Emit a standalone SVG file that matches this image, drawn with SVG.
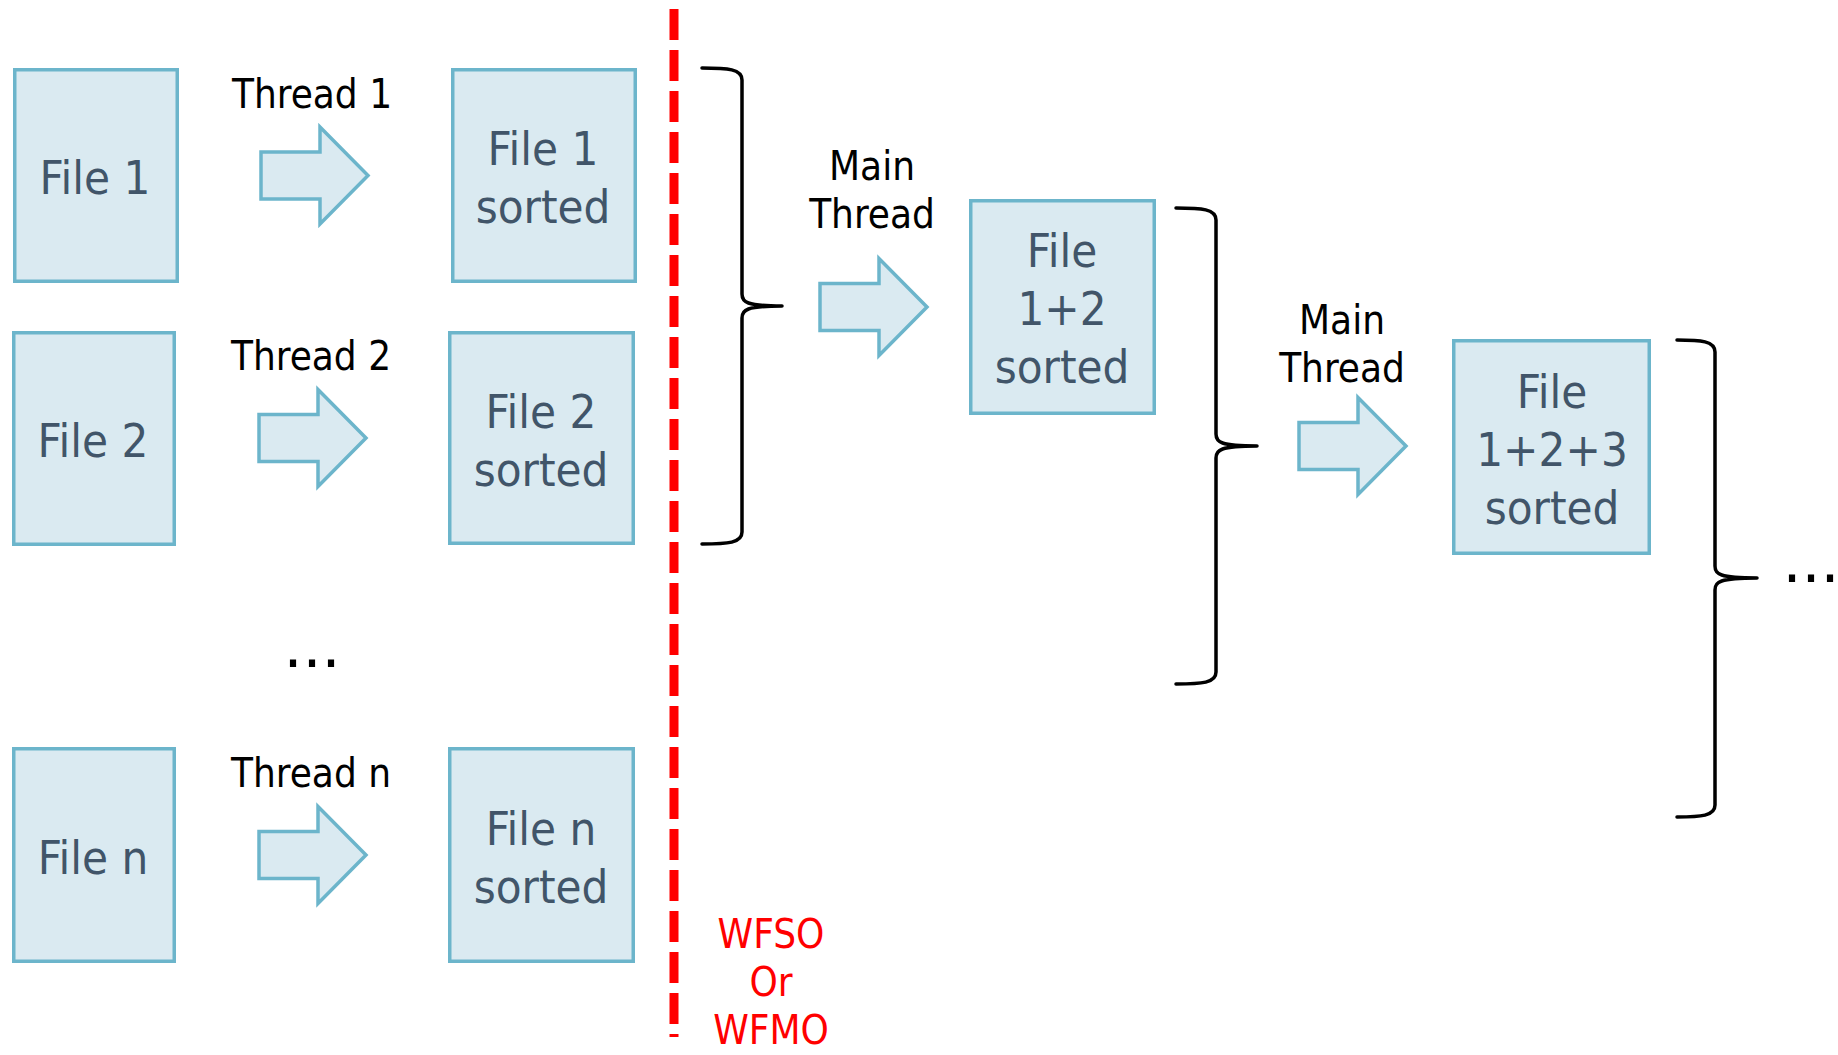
<svg xmlns="http://www.w3.org/2000/svg" xmlns:xlink="http://www.w3.org/1999/xlink" width="1838" height="1055" viewBox="0 0 1838 1055">
  <style>
    .box { fill: #DAEAF1; stroke: #6CB5CB; stroke-width: 3.5; }
    .arrow { fill: #DAEAF1; stroke: #6CB5CB; stroke-width: 3.5; stroke-linejoin: miter; }
    .boxtext { font-family: "DejaVu Sans Condensed", "Liberation Sans", sans-serif; font-stretch: condensed; font-size: 47px; fill: #415569; text-anchor: middle; }
    .label { font-family: "DejaVu Sans Condensed", "Liberation Sans", sans-serif; font-stretch: condensed; font-size: 40px; fill: #000; text-anchor: middle; }
    .wait { font-family: "DejaVu Sans Condensed", "Liberation Sans", sans-serif; font-stretch: condensed; font-size: 40px; fill: #FF0000; text-anchor: middle; }
    .dots { font-family: "DejaVu Sans", sans-serif; font-size: 60px; fill: #000; text-anchor: middle; }
    .brace { fill: none; stroke: #000; stroke-width: 3.5; stroke-linecap: round; stroke-linejoin: round; }
    .barrier { stroke: #FF0000; stroke-width: 9; stroke-dasharray: 31 10; }
  </style>
  <defs>
    <!-- block arrow, origin at the tail's vertical centre -->
    <path id="blockArrow" class="arrow" d="M0,-23.5 H59 V-48.5 L107,0 L59,48.5 V23.5 H0 Z"/>
  </defs>

  <rect width="1838" height="1055" fill="#FFFFFF"/>

  <!-- input files -->
  <g id="file1"><rect class="box" x="14.75" y="69.75" width="162.5" height="211.5"/><text class="boxtext" x="95" y="194">File 1</text></g>
  <g id="file2"><rect class="box" x="13.75" y="332.75" width="160.5" height="211.5"/><text class="boxtext" x="93" y="457">File 2</text></g>
  <g id="filen"><rect class="box" x="13.75" y="748.75" width="160.5" height="212.5"/><text class="boxtext" x="93" y="874">File n</text></g>

  <!-- worker thread labels -->
  <g id="thread1-label"><text class="label" x="312" y="108">Thread 1</text></g>
  <g id="thread2-label"><text class="label" x="311" y="370">Thread 2</text></g>
  <g id="more-threads"><text class="dots" x="312" y="667">...</text></g>
  <g id="threadn-label"><text class="label" x="311" y="787">Thread n</text></g>

  <!-- sorted outputs of worker threads -->
  <g id="file1-sorted"><rect class="box" x="452.75" y="69.75" width="182.5" height="211.5"/><text class="boxtext" x="543" y="165">File 1</text><text class="boxtext" x="543" y="223">sorted</text></g>
  <g id="file2-sorted"><rect class="box" x="449.75" y="332.75" width="183.5" height="210.5"/><text class="boxtext" x="541" y="428">File 2</text><text class="boxtext" x="541" y="486">sorted</text></g>
  <g id="filen-sorted"><rect class="box" x="449.75" y="748.75" width="183.5" height="212.5"/><text class="boxtext" x="541" y="845">File n</text><text class="boxtext" x="541" y="903">sorted</text></g>

  <!-- wait barrier -->
  <g id="barrier">
    <line class="barrier" x1="674" y1="9" x2="674" y2="1037"/>
    <text class="wait" x="771" y="948">WFSO</text>
    <text class="wait" x="771" y="996">Or</text>
    <text class="wait" x="771" y="1044">WFMO</text>
  </g>

  <!-- merge stages -->
  <g id="main-thread-1-label"><text class="label" x="872" y="180">Main</text><text class="label" x="872" y="228">Thread</text></g>
  <g id="file12-sorted"><rect class="box" x="970.75" y="200.75" width="183.5" height="212.5"/><text class="boxtext" x="1062" y="267">File</text><text class="boxtext" x="1062" y="325">1+2</text><text class="boxtext" x="1062" y="383">sorted</text></g>

  <g id="main-thread-2-label"><text class="label" x="1342" y="334">Main</text><text class="label" x="1342" y="382">Thread</text></g>
  <g id="file123-sorted"><rect class="box" x="1453.75" y="340.75" width="195.5" height="212.5"/><text class="boxtext" x="1552" y="408">File</text><text class="boxtext" x="1552" y="466">1+2+3</text><text class="boxtext" x="1552" y="524">sorted</text></g>

  <g id="more-merges"><text class="dots" x="1811" y="582">...</text></g>

  <!-- connectors: block arrows and grouping braces -->
  <g id="connectors">
    <use xlink:href="#blockArrow" x="261" y="175.5"/>
    <use xlink:href="#blockArrow" x="259" y="438"/>
    <use xlink:href="#blockArrow" x="259" y="855"/>
    <use xlink:href="#blockArrow" x="820" y="307"/>
    <use xlink:href="#blockArrow" x="1299" y="446"/>

    <path class="brace" d="M702,68 C728,68 742,69 742,80 L742,294 C742,302 746,306 782,306 M782,306 C746,306 742,310 742,318 L742,532 C742,543 728,544 702,544"/>
    <path class="brace" d="M1176,208 C1202,208 1216,209 1216,220 L1216,434 C1216,442 1220,446 1257,446 M1257,446 C1220,446 1216,450 1216,458 L1216,672 C1216,683 1202,684 1176,684"/>
    <path class="brace" d="M1677,340 C1701,340 1715,341 1715,352 L1715,566 C1715,574 1719,578 1757,578 M1757,578 C1719,578 1715,582 1715,590 L1715,805 C1715,816 1701,817 1677,817"/>
  </g>
</svg>
